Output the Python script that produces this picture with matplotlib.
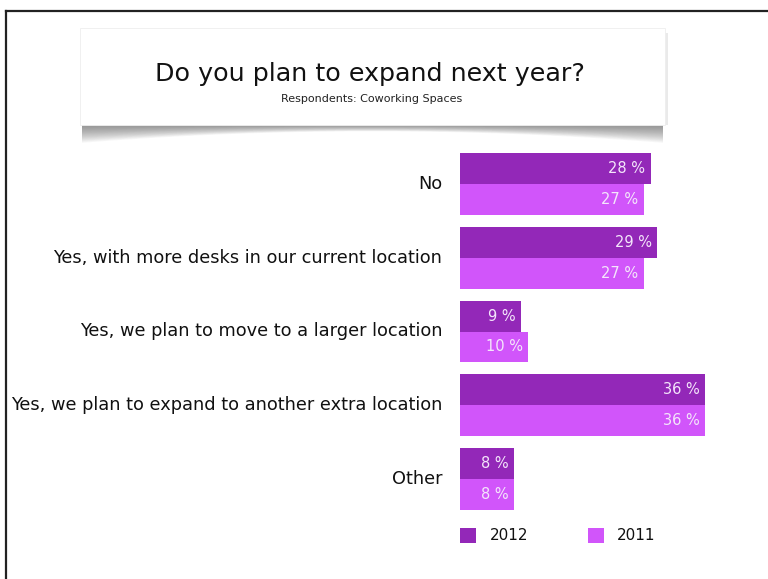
import matplotlib
matplotlib.use('Agg')

import matplotlib.pyplot as plt
from matplotlib.patches import Rectangle, Polygon
from matplotlib.lines import Line2D
import numpy as np

plt.rcParams['font.family'] = ['DejaVu Sans']

categories = ['No',
              'Yes, with more desks in our current location',
              'Yes, we plan to move to a larger location',
              'Yes, we plan to expand to another extra location',
              'Other']
values_2012 = [28, 29, 9, 36, 8]
values_2011 = [27, 27, 10, 36, 8]
series_names = ['2012', '2011']

col_2012 = '#9328B8'
col_2011 = '#D155FA'

W, H = 768, 579
fig = plt.figure(figsize=(W / 100, H / 100), dpi=100)
fig.patch.set_facecolor('white')

def fx(px):
    return px / W

def fy(py):
    return 1 - py / H

# outer frame (left and top edges only)
fig.add_artist(Line2D([fx(6), fx(6)], [fy(11), 0], color='#222222', lw=1.6))
fig.add_artist(Line2D([fx(6), 1], [fy(11), fy(11)], color='#222222', lw=1.6))

# title card with a curled drop shadow, built from stacked soft layers
box_l, box_r, box_t, box_b = 80, 665, 28, 125
xs = np.linspace(box_l + 2, box_r - 2, 80)
t = (xs - box_l) / (box_r - box_l)
for depth in np.linspace(18, 2, 17):
    drop = depth * (0.35 + 0.65 * (2 * t - 1) ** 2)
    pts = [(fx(x), fy(box_b)) for x in xs] + \
          [(fx(x), fy(box_b + d)) for x, d in zip(xs[::-1], drop[::-1])]
    fig.add_artist(Polygon(pts, closed=True, transform=fig.transFigure,
                           facecolor='#4a4a4a', alpha=0.045, lw=0, antialiased=True))
fig.add_artist(Rectangle((fx(box_r), fy(box_b)), fx(3), fy(box_t + 5) - fy(box_b),
                         transform=fig.transFigure, facecolor='#dddddd', lw=0, alpha=0.6))
fig.add_artist(Rectangle((fx(box_l), fy(box_b)), fx(box_r - box_l), fy(box_t) - fy(box_b),
                         transform=fig.transFigure, facecolor='white',
                         edgecolor='#eeeeee', lw=0.6))
fig.text(fx(370), fy(74), 'Do you plan to expand next year?', ha='center', va='center',
         fontsize=18.3, color='#111111')
fig.text(fx(372), fy(99), 'Respondents: Coworking Spaces', ha='center', va='center',
         fontsize=8, color='#222222')

# bars
ax = fig.add_axes([fx(460), fy(510), fx(705 - 460), (510 - 153) / H])
y = np.arange(len(categories))
h = 0.42
ax.barh(y - h / 2, values_2012, height=h, color=col_2012, edgecolor='none')
ax.barh(y + h / 2, values_2011, height=h, color=col_2011, edgecolor='none')
ax.set_xlim(0, 36)
ax.set_ylim(len(categories) - 1 + h, -h)
ax.axis('off')

for i, (a, b) in enumerate(zip(values_2012, values_2011)):
    ax.text(a - 0.8, i - h / 2, f'{a} %', ha='right', va='center',
            color='#f4e6fb', fontsize=10.5)
    ax.text(b - 0.8, i + h / 2, f'{b} %', ha='right', va='center',
            color='#f4e6fb', fontsize=10.5)
    ax.text(-2.6, i, categories[i], ha='right', va='center',
            color='#111111', fontsize=12.8, clip_on=False)

# legend
for sx, tx, name, col in [(460, 490, series_names[0], col_2012),
                          (588, 617, series_names[1], col_2011)]:
    fig.add_artist(Rectangle((fx(sx), fy(543)), fx(16), fy(528) - fy(543),
                             transform=fig.transFigure, facecolor=col, lw=0))
    fig.text(fx(tx), fy(536), name, ha='left', va='center', fontsize=11, color='#111111')

fig.savefig('out.png', dpi=100, facecolor='white')
